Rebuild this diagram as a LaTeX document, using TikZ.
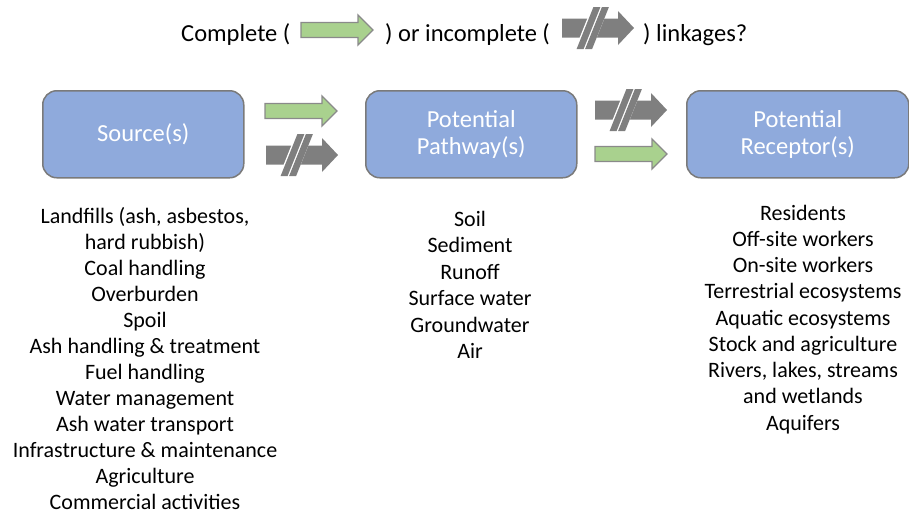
\documentclass[tikz,border=0pt]{standalone}
\usepackage{fontspec}
\setmainfont{Carlito}
\definecolor{boxblue}{HTML}{8FAADC}
\definecolor{boxline}{HTML}{7A7A7A}
\definecolor{arrgreen}{HTML}{A9D18E}
\definecolor{arrgray}{HTML}{7F7F7F}
\definecolor{arrline}{HTML}{8A8A8A}
\begin{document}
\begin{tikzpicture}[x=1pt,y=-1pt,
  box/.style={draw=boxline, line width=1.5pt, fill=boxblue, rounded corners=14pt,
    text=white, align=center, font=\fontsize{24.5}{27}\selectfont, anchor=north west, inner sep=0pt},
  ttl/.style={font=\fontsize{24.5}{27}\selectfont, anchor=base west, inner sep=0pt},
  item/.style={font=\fontsize{22}{26}\selectfont, anchor=base, inner sep=0pt},
  greenarrow/.pic={
    \path[draw=arrline, fill=arrgreen, line width=1.3pt]
      (0,-7.5) -- (57,-7.5) -- (57,-15) -- (72,0) -- (57,15) -- (57,7.5) -- (0,7.5) -- cycle;
  },
  grayarrow/.pic={
    \fill[arrgray] (0,-9.5) -- (56,-9.5) -- (56,-17) -- (72,0) -- (56,17) -- (56,9.5) -- (0,9.5) -- cycle;
    \fill[white] (21.5+4,-10) -- (38.5+4,-10) -- (38.5-4,10) -- (21.5-4,10) -- cycle;
    \fill[arrgray] (23+8.4,-21) -- (30+8.4,-21) -- (30-8.4,21) -- (23-8.4,21) -- cycle;
    \fill[arrgray] (31.5+8.4,-21) -- (38.5+8.4,-21) -- (38.5-8.4,21) -- (31.5-8.4,21) -- cycle;
  }
]
\useasboundingbox (0,0) rectangle (909,515);

% title / legend
\node[ttl] (t1) at (181,41) {Complete (};
\pic (lg) at (301,30) {greenarrow};
\node[ttl] (t2) at (385,41) {) or incomplete (};
\pic (lr) at (562,28) {grayarrow};
\node[ttl] (t3) at (643,41) {) linkages?};

% boxes
\node[box, minimum width=201pt, minimum height=87pt] (src) at (42,90) {Source(s)};
\node[box, minimum width=211pt, minimum height=87pt] (pth) at (365,90) {Potential\\Pathway(s)};
\node[box, minimum width=222pt, minimum height=87pt] (rec) at (686,90) {Potential\\Receptor(s)};

% block arrows
\pic (a1) at (265,111) {greenarrow};
\pic (a2) at (266,155) {grayarrow};
\pic (a3) at (595,110) {grayarrow};
\pic (a4) at (595,154) {greenarrow};

% lists
\foreach \t [count=\i] in {{Landfills (ash, asbestos,},hard rubbish),Coal handling,Overburden,Spoil,
  Ash handling \& treatment,Fuel handling,Water management,Ash water transport,
  Infrastructure \& maintenance,Agriculture,Commercial activities}
  \node[item] (s\i) at (145,{223+26.05*(\i-1)}) {\t};

\foreach \t [count=\i] in {Soil,Sediment,Runoff,Surface water,Groundwater,Air}
  \node[item] (p\i) at (470,{226+26.5*(\i-1)}) {\t};

\foreach \t [count=\i] in {Residents,Off-site workers,On-site workers,Terrestrial ecosystems,
  Aquatic ecosystems,Stock and agriculture,{Rivers, lakes, streams},and wetlands,Aquifers}
  \node[item] (r\i) at (803,{220+26.25*(\i-1)}) {\t};
\end{tikzpicture}
\end{document}
